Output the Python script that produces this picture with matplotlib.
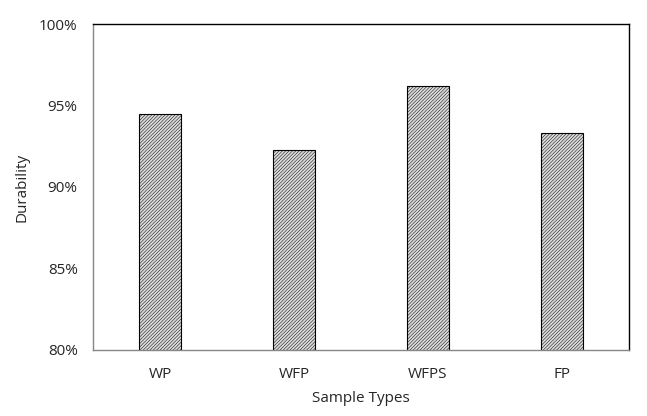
import matplotlib.pyplot as plt
from matplotlib.ticker import PercentFormatter

samples = ["WP", "WFP", "WFPS", "FP"]
durability = [94.5, 92.25, 96.2, 93.3]

plt.rcParams['font.family'] = ['Open Sans', 'DejaVu Sans']
plt.rcParams['hatch.color'] = '#7a7a7a'
plt.rcParams['hatch.linewidth'] = 0.35

fig = plt.figure(figsize=(6.47, 4.16), dpi=100)
ax = fig.add_axes([0.1437, 0.1587, 0.8284, 0.7836])

x = range(len(samples))
ax.bar(x, durability, width=0.31, color='#dcdcdc', edgecolor='black',
       linewidth=0.8, hatch='//////////', zorder=2)

ax.set_xlim(-0.5, 3.5)
ax.set_ylim(80, 100)
ax.set_yticks([80, 85, 90, 95, 100])
ax.yaxis.set_major_formatter(PercentFormatter(decimals=0))
ax.set_xticks(list(x))
ax.set_xticklabels(samples)
ax.tick_params(length=0, labelsize=11, pad=12, labelcolor='#262626')
ax.tick_params(axis='y', pad=11)

for side in ['top', 'right']:
    ax.spines[side].set_color('black')
    ax.spines[side].set_linewidth(1.0)
for side in ['left', 'bottom']:
    ax.spines[side].set_color('#868686')
    ax.spines[side].set_linewidth(1.0)

ax.set_xlabel("Sample Types", fontsize=11, labelpad=7, color='#262626')
ax.set_ylabel("Durability", fontsize=11, labelpad=7, color='#262626')

fig.savefig("out.png", dpi=100)
